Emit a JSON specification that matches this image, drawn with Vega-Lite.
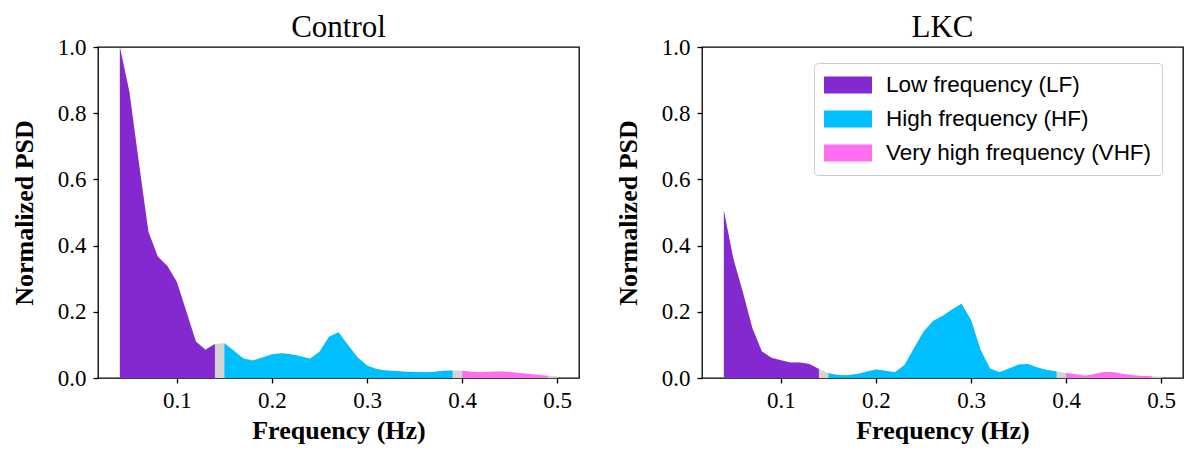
{
  "$schema": "https://vega.github.io/schema/vega-lite/v6.json",
  "background": "white",
  "padding": {"left": 10, "top": 11, "right": 5, "bottom": 5},
  "spacing": 123,
  "bounds": "flush",
  "config": {
    "font": "Liberation Serif",
    "view": {"stroke": "black", "strokeWidth": 1.3},
    "axis": {
      "domain": false, "grid": false,
      "tickColor": "black", "tickSize": 5, "tickWidth": 1.3,
      "labelColor": "black", "labelFont": "Liberation Serif", "labelFontSize": 23,
      "titleFont": "Liberation Serif", "titleFontSize": 26, "titleFontWeight": "bold", "titleColor": "black"
    },
    "axisX": {"labelPadding": 6, "titlePadding": 5},
    "axisY": {"labelPadding": 7, "titlePadding": 20},
    "title": {"font": "Liberation Serif", "fontSize": 31, "fontWeight": "normal", "color": "black", "offset": -8}
  },
  "datasets": {
    "psd": [
      {"panel": "Control", "freq": 0.04, "psd": 1.0, "band": "LF"},
      {"panel": "Control", "freq": 0.05, "psd": 0.865, "band": "LF"},
      {"panel": "Control", "freq": 0.06, "psd": 0.65, "band": "LF"},
      {"panel": "Control", "freq": 0.07, "psd": 0.442, "band": "LF"},
      {"panel": "Control", "freq": 0.08, "psd": 0.366, "band": "LF"},
      {"panel": "Control", "freq": 0.09, "psd": 0.338, "band": "LF"},
      {"panel": "Control", "freq": 0.10, "psd": 0.29, "band": "LF"},
      {"panel": "Control", "freq": 0.11, "psd": 0.20, "band": "LF"},
      {"panel": "Control", "freq": 0.12, "psd": 0.11, "band": "LF"},
      {"panel": "Control", "freq": 0.13, "psd": 0.085, "band": "LF"},
      {"panel": "Control", "freq": 0.14, "psd": 0.103, "band": "LF"},
      {"panel": "Control", "freq": 0.15, "psd": 0.105, "band": "HF"},
      {"panel": "Control", "freq": 0.16, "psd": 0.082, "band": "HF"},
      {"panel": "Control", "freq": 0.17, "psd": 0.059, "band": "HF"},
      {"panel": "Control", "freq": 0.18, "psd": 0.053, "band": "HF"},
      {"panel": "Control", "freq": 0.19, "psd": 0.062, "band": "HF"},
      {"panel": "Control", "freq": 0.20, "psd": 0.072, "band": "HF"},
      {"panel": "Control", "freq": 0.21, "psd": 0.0745, "band": "HF"},
      {"panel": "Control", "freq": 0.22, "psd": 0.072, "band": "HF"},
      {"panel": "Control", "freq": 0.23, "psd": 0.066, "band": "HF"},
      {"panel": "Control", "freq": 0.24, "psd": 0.058, "band": "HF"},
      {"panel": "Control", "freq": 0.25, "psd": 0.079, "band": "HF"},
      {"panel": "Control", "freq": 0.26, "psd": 0.125, "band": "HF"},
      {"panel": "Control", "freq": 0.27, "psd": 0.138, "band": "HF"},
      {"panel": "Control", "freq": 0.28, "psd": 0.10, "band": "HF"},
      {"panel": "Control", "freq": 0.29, "psd": 0.0625, "band": "HF"},
      {"panel": "Control", "freq": 0.30, "psd": 0.038, "band": "HF"},
      {"panel": "Control", "freq": 0.31, "psd": 0.027, "band": "HF"},
      {"panel": "Control", "freq": 0.32, "psd": 0.023, "band": "HF"},
      {"panel": "Control", "freq": 0.33, "psd": 0.021, "band": "HF"},
      {"panel": "Control", "freq": 0.34, "psd": 0.019, "band": "HF"},
      {"panel": "Control", "freq": 0.35, "psd": 0.018, "band": "HF"},
      {"panel": "Control", "freq": 0.36, "psd": 0.017, "band": "HF"},
      {"panel": "Control", "freq": 0.37, "psd": 0.018, "band": "HF"},
      {"panel": "Control", "freq": 0.38, "psd": 0.022, "band": "HF"},
      {"panel": "Control", "freq": 0.39, "psd": 0.023, "band": "HF"},
      {"panel": "Control", "freq": 0.40, "psd": 0.022, "band": "VHF"},
      {"panel": "Control", "freq": 0.41, "psd": 0.019, "band": "VHF"},
      {"panel": "Control", "freq": 0.42, "psd": 0.017, "band": "VHF"},
      {"panel": "Control", "freq": 0.43, "psd": 0.019, "band": "VHF"},
      {"panel": "Control", "freq": 0.44, "psd": 0.020, "band": "VHF"},
      {"panel": "Control", "freq": 0.45, "psd": 0.018, "band": "VHF"},
      {"panel": "Control", "freq": 0.46, "psd": 0.015, "band": "VHF"},
      {"panel": "Control", "freq": 0.47, "psd": 0.012, "band": "VHF"},
      {"panel": "Control", "freq": 0.48, "psd": 0.009, "band": "VHF"},
      {"panel": "Control", "freq": 0.49, "psd": 0.007, "band": "VHF"},
      {"panel": "Control", "freq": 0.50, "psd": 0.005, "band": "none"},
      {"panel": "LKC", "freq": 0.04, "psd": 0.505, "band": "LF"},
      {"panel": "LKC", "freq": 0.05, "psd": 0.36, "band": "LF"},
      {"panel": "LKC", "freq": 0.06, "psd": 0.259, "band": "LF"},
      {"panel": "LKC", "freq": 0.07, "psd": 0.15, "band": "LF"},
      {"panel": "LKC", "freq": 0.08, "psd": 0.08, "band": "LF"},
      {"panel": "LKC", "freq": 0.09, "psd": 0.061, "band": "LF"},
      {"panel": "LKC", "freq": 0.10, "psd": 0.054, "band": "LF"},
      {"panel": "LKC", "freq": 0.11, "psd": 0.047, "band": "LF"},
      {"panel": "LKC", "freq": 0.12, "psd": 0.047, "band": "LF"},
      {"panel": "LKC", "freq": 0.13, "psd": 0.042, "band": "LF"},
      {"panel": "LKC", "freq": 0.14, "psd": 0.027, "band": "LF"},
      {"panel": "LKC", "freq": 0.15, "psd": 0.014, "band": "HF"},
      {"panel": "LKC", "freq": 0.16, "psd": 0.009, "band": "HF"},
      {"panel": "LKC", "freq": 0.17, "psd": 0.008, "band": "HF"},
      {"panel": "LKC", "freq": 0.18, "psd": 0.012, "band": "HF"},
      {"panel": "LKC", "freq": 0.19, "psd": 0.019, "band": "HF"},
      {"panel": "LKC", "freq": 0.20, "psd": 0.026, "band": "HF"},
      {"panel": "LKC", "freq": 0.21, "psd": 0.022, "band": "HF"},
      {"panel": "LKC", "freq": 0.22, "psd": 0.017, "band": "HF"},
      {"panel": "LKC", "freq": 0.23, "psd": 0.039, "band": "HF"},
      {"panel": "LKC", "freq": 0.24, "psd": 0.09, "band": "HF"},
      {"panel": "LKC", "freq": 0.25, "psd": 0.14, "band": "HF"},
      {"panel": "LKC", "freq": 0.26, "psd": 0.172, "band": "HF"},
      {"panel": "LKC", "freq": 0.27, "psd": 0.187, "band": "HF"},
      {"panel": "LKC", "freq": 0.28, "psd": 0.207, "band": "HF"},
      {"panel": "LKC", "freq": 0.29, "psd": 0.224, "band": "HF"},
      {"panel": "LKC", "freq": 0.30, "psd": 0.175, "band": "HF"},
      {"panel": "LKC", "freq": 0.31, "psd": 0.085, "band": "HF"},
      {"panel": "LKC", "freq": 0.32, "psd": 0.029, "band": "HF"},
      {"panel": "LKC", "freq": 0.33, "psd": 0.017, "band": "HF"},
      {"panel": "LKC", "freq": 0.34, "psd": 0.029, "band": "HF"},
      {"panel": "LKC", "freq": 0.35, "psd": 0.041, "band": "HF"},
      {"panel": "LKC", "freq": 0.36, "psd": 0.042, "band": "HF"},
      {"panel": "LKC", "freq": 0.37, "psd": 0.032, "band": "HF"},
      {"panel": "LKC", "freq": 0.38, "psd": 0.024, "band": "HF"},
      {"panel": "LKC", "freq": 0.39, "psd": 0.020, "band": "HF"},
      {"panel": "LKC", "freq": 0.40, "psd": 0.015, "band": "VHF"},
      {"panel": "LKC", "freq": 0.41, "psd": 0.011, "band": "VHF"},
      {"panel": "LKC", "freq": 0.42, "psd": 0.007, "band": "VHF"},
      {"panel": "LKC", "freq": 0.43, "psd": 0.012, "band": "VHF"},
      {"panel": "LKC", "freq": 0.44, "psd": 0.018, "band": "VHF"},
      {"panel": "LKC", "freq": 0.45, "psd": 0.017, "band": "VHF"},
      {"panel": "LKC", "freq": 0.46, "psd": 0.012, "band": "VHF"},
      {"panel": "LKC", "freq": 0.47, "psd": 0.008, "band": "VHF"},
      {"panel": "LKC", "freq": 0.48, "psd": 0.006, "band": "VHF"},
      {"panel": "LKC", "freq": 0.49, "psd": 0.005, "band": "VHF"},
      {"panel": "LKC", "freq": 0.50, "psd": 0.004, "band": "none"}
    ]
  },
  "resolve": {"scale": {"color": "independent"}, "legend": {"color": "independent"}},
  "hconcat": [
    {
      "title": "Control",
      "width": 481, "height": 331,
      "data": {"name": "psd"},
      "transform": [{"filter": "datum.panel === 'Control'"}],
      "encoding": {
        "x": {"field": "freq", "type": "quantitative", "title": "Frequency (Hz)",
              "scale": {"domain": [0.017, 0.523], "nice": false, "zero": false},
              "axis": {"values": [0.1, 0.2, 0.3, 0.4, 0.5], "format": ".1f"}},
        "y": {"field": "psd", "type": "quantitative", "title": "Normalized PSD", "stack": null,
              "scale": {"domain": [0, 1], "nice": false},
              "axis": {"values": [0, 0.2, 0.4, 0.6, 0.8, 1.0], "format": ".1f"}}
      },
      "layer": [
        {"mark": {"type": "area", "color": "#d3d3d3"}, "encoding": {}},
        {
          "transform": [{"filter": "datum.band !== 'none'"}],
          "mark": {"type": "area", "opacity": 1},
          "encoding": {
            "color": {"field": "band", "type": "nominal",
                      "scale": {"domain": ["LF", "HF", "VHF"], "range": ["#8428d0", "#00bfff", "#ff6ef0"]},
                      "legend": null}
          }
        }
      ]
    },
    {
      "title": "LKC",
      "width": 481, "height": 331,
      "data": {"name": "psd"},
      "transform": [{"filter": "datum.panel === 'LKC'"}],
      "encoding": {
        "x": {"field": "freq", "type": "quantitative", "title": "Frequency (Hz)",
              "scale": {"domain": [0.017, 0.523], "nice": false, "zero": false},
              "axis": {"values": [0.1, 0.2, 0.3, 0.4, 0.5], "format": ".1f"}},
        "y": {"field": "psd", "type": "quantitative", "title": "Normalized PSD", "stack": null,
              "scale": {"domain": [0, 1], "nice": false},
              "axis": {"values": [0, 0.2, 0.4, 0.6, 0.8, 1.0], "format": ".1f"}}
      },
      "layer": [
        {"mark": {"type": "area", "color": "#d3d3d3"}, "encoding": {}},
        {
          "transform": [{"filter": "datum.band !== 'none'"}],
          "mark": {"type": "area", "opacity": 1},
          "encoding": {
            "color": {"field": "band", "type": "nominal",
                      "scale": {"domain": ["LF", "HF", "VHF"], "range": ["#8428d0", "#00bfff", "#ff6ef0"]},
                      "legend": {
                        "title": null, "orient": "none", "legendX": 112, "legendY": 16,
                        "direction": "vertical",
                        "labelExpr": "datum.label === 'LF' ? 'Low frequency (LF)' : datum.label === 'HF' ? 'High frequency (HF)' : 'Very high frequency (VHF)'",
                        "labelFont": "Liberation Sans", "labelFontSize": 22.5, "labelColor": "black", "labelLimit": 500,
                        "symbolType": "M-1,-0.7L3,-0.7L3,0.7L-1,0.7Z", "symbolSize": 576,
                        "symbolOpacity": 1, "symbolStrokeWidth": 0,
                        "labelOffset": 38, "rowPadding": 10,
                        "padding": 10, "strokeColor": "#cccccc", "fillColor": "white", "cornerRadius": 4
                      }}
          }
        }
      ]
    }
  ]
}
